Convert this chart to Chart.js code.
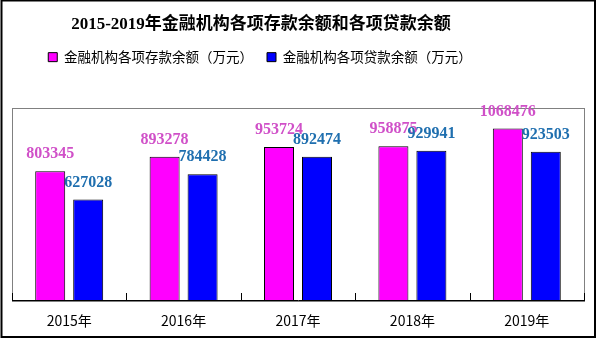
<!DOCTYPE html>
<html>
<head>
<meta charset="utf-8">
<script src="https://cdn.jsdelivr.net/npm/chart.js@4.4.1/dist/chart.umd.min.js"></script>
<style>
  html, body { margin: 0; padding: 0; background: #fff; }
  canvas { display: block; }
</style>
</head>
<body>
<canvas id="myChart" width="596" height="338"></canvas>
<script>
const categories = ['2015年', '2016年', '2017年', '2018年', '2019年'];
const deposits = [803345, 893278, 953724, 958875, 1068476];
const loans = [627028, 784428, 892474, 929941, 923503];
const yMin = 0;
const yMax = 1200000;

const serif = "'Liberation Serif', 'Noto Sans CJK SC', serif";
const cjk = "'Noto Sans CJK SC', 'DejaVu Sans', sans-serif";

// frame, gray plot box, little inner ticks between categories, value labels
const decor = {
  id: 'decor',
  afterLayout(chart) {
    // title and legend sit left of centre in the original
    if (chart.titleBlock) { chart.titleBlock.left -= 37; chart.titleBlock.right -= 37; }
    if (chart.legend) { chart.legend.left -= 38; chart.legend.right -= 38; }
  },
  beforeDraw(chart) {
    const ctx = chart.ctx;
    const a = chart.chartArea;
    ctx.save();
    ctx.fillStyle = '#fff';
    ctx.fillRect(0, 0, chart.width, chart.height);
    ctx.strokeStyle = '#000';
    ctx.lineWidth = 2;
    ctx.strokeRect(1.5, 0.5, chart.width - 2.5, chart.height - 1.5);
    ctx.strokeStyle = '#808080';
    ctx.lineWidth = 1;
    ctx.strokeRect(Math.round(a.left) + 0.5, Math.round(a.top) + 0.5,
      Math.round(a.right - a.left), Math.round(a.bottom - a.top));
    ctx.restore();
  },
  afterDatasetsDraw(chart) {
    const ctx = chart.ctx;
    const x = chart.scales.x;
    const bottom = chart.chartArea.bottom;
    ctx.save();
    ctx.strokeStyle = '#000';
    ctx.lineWidth = 1;
    for (let i = 0; i <= categories.length; i++) {
      const px = Math.round(x.getPixelForValue(i - 0.5)) + 0.5;
      ctx.beginPath();
      ctx.moveTo(px, bottom);
      ctx.lineTo(px, bottom - 7);
      ctx.stroke();
    }
    ctx.font = 'bold 16px ' + serif;
    ctx.textAlign = 'center';
    ctx.textBaseline = 'middle';
    chart.data.datasets.forEach((ds, di) => {
      const meta = chart.getDatasetMeta(di);
      ctx.fillStyle = ds.labelColor;
      meta.data.forEach((bar, i) => {
        ctx.fillText(String(ds.data[i]), bar.x, bar.y - 17);
      });
    });
    ctx.restore();
  }
};

const ctx = document.getElementById('myChart').getContext('2d');
new Chart(ctx, {
  type: 'bar',
  data: {
    labels: categories,
    datasets: [
      {
        label: '金融机构各项存款余额（万元）',
        data: deposits,
        backgroundColor: '#FF00FF',
        borderColor: '#000',
        borderWidth: 1,
        labelColor: '#D050C8',
        categoryPercentage: 0.664,
        barPercentage: 0.79,
      },
      {
        label: '金融机构各项贷款余额（万元）',
        data: loans,
        backgroundColor: '#0000FF',
        borderColor: '#000',
        borderWidth: 1,
        labelColor: '#1F6FAF',
        categoryPercentage: 0.664,
        barPercentage: 0.79,
      }
    ]
  },
  options: {
    responsive: false,
    animation: false,
    layout: { padding: { left: 12, right: 12, top: 0, bottom: 0 } },
    scales: {
      x: {
        grid: { display: false, drawTicks: false },
        border: { display: true, color: '#000', width: 1 },
        ticks: { color: '#000', padding: 12, font: { family: cjk, size: 14 } },
        afterFit(s) { s.height = 38; },
      },
      x2: {
        type: 'category',
        position: 'top',
        grid: { display: false, drawTicks: false },
        border: { display: false },
        ticks: { display: false },
        afterFit(s) { s.height = 33.6; },
      },
      y: {
        display: false,
        min: yMin,
        max: yMax,
      }
    },
    plugins: {
      title: {
        display: true,
        text: '2015-2019年金融机构各项存款余额和各项贷款余额',
        color: '#000',
        font: { family: serif, size: 17, weight: 'bold' },
        padding: { top: 14, bottom: 2 },
      },
      legend: {
        position: 'top',
        labels: {
          color: '#000',
          boxWidth: 9,
          boxHeight: 9,
          padding: 14,
          font: { family: cjk, size: 13.5 },
        }
      },
      tooltip: { enabled: false },
    }
  },
  plugins: [decor],
});
</script>
</body>
</html>
